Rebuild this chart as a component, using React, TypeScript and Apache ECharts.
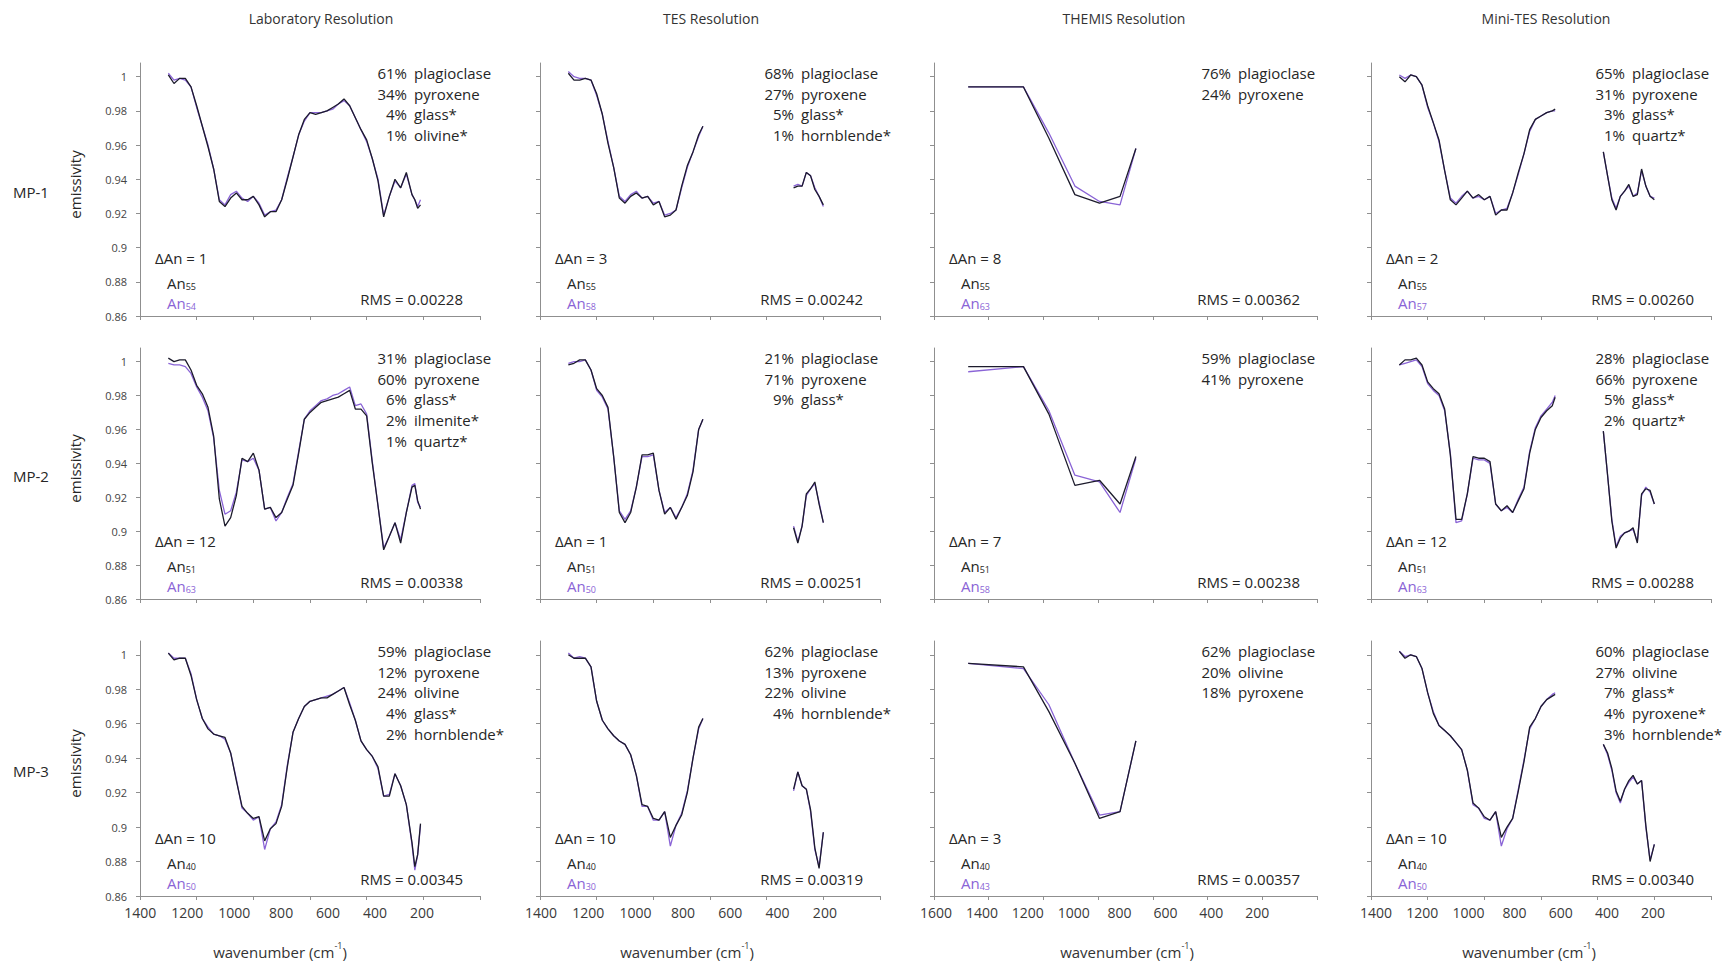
import React, { useEffect, useRef } from "react";
import * as echarts from "echarts";

// ---------- text content ----------
const instruments = ["Laboratory Resolution", "TES Resolution", "THEMIS Resolution", "Mini-TES Resolution"];
const samples = ["MP-1", "MP-2", "MP-3"];

// ---------- axis ticks ----------
const yTicks = [0.86, 0.88, 0.9, 0.92, 0.94, 0.96, 0.98, 1];
const xTickLabels = [1400, 1200, 1000, 800, 600, 400, 200];
const themisTickLabels = [1600, 1400, 1200, 1000, 800, 600, 400, 200];

// ---------- wavenumbers (cm-1) ----------
const labWavenumbers = [1300, 1280, 1260, 1240, 1220, 1200, 1180, 1160, 1140, 1120, 1100, 1080, 1060, 1040, 1020, 1000, 980, 960, 940, 920, 900, 880, 860, 840, 820, 800, 780, 760, 740, 720, 700, 680, 660, 640, 620, 600, 580, 560, 540, 520, 500, 480, 460, 440, 430, 420, 410];
const tesWavenumbers = [1300, 1280, 1260, 1240, 1220, 1200, 1180, 1160, 1140, 1120, 1100, 1080, 1060, 1040, 1020, 1000, 980, 960, 940, 920, 900, 880, 860, 840, 825, 505, 490, 475, 460, 445, 430, 415, 400];
const themisWavenumbers = [1475, 1273, 1180, 1085, 995, 920, 862];
const miniTesWavenumbers = [1300, 1280, 1260, 1240, 1220, 1200, 1180, 1160, 1140, 1120, 1100, 1080, 1060, 1040, 1020, 1000, 980, 960, 940, 920, 900, 880, 860, 840, 820, 800, 780, 760, 750, 580, 565, 550, 535, 520, 505, 490, 475, 460, 445, 430, 415, 400];
// spectral ranges left out (last wavenumber before each gap)
const tesGapAfter = 825;
const miniTesGapAfter = 750;

// ---------- emissivity: measured (black) and modelled (purple) ----------
const mp1LabMeasured = [1.001, 0.996, 0.999, 0.999, 0.994, 0.983, 0.971, 0.959, 0.946, 0.927, 0.924, 0.929, 0.932, 0.928, 0.928, 0.930, 0.925, 0.918, 0.921, 0.921, 0.928, 0.940, 0.953, 0.966, 0.975, 0.979, 0.978, 0.979, 0.980, 0.982, 0.984, 0.987, 0.983, 0.976, 0.969, 0.963, 0.952, 0.939, 0.918, 0.930, 0.940, 0.935, 0.944, 0.931, 0.928, 0.923, 0.925];
const mp1LabModel = [1.002, 0.998, 0.999, 0.998, 0.994, 0.982, 0.971, 0.960, 0.946, 0.928, 0.925, 0.931, 0.933, 0.929, 0.927, 0.930, 0.926, 0.919, 0.921, 0.922, 0.928, 0.941, 0.953, 0.966, 0.974, 0.979, 0.979, 0.979, 0.980, 0.981, 0.984, 0.986, 0.983, 0.976, 0.969, 0.962, 0.952, 0.940, 0.919, 0.930, 0.939, 0.935, 0.943, 0.931, 0.928, 0.924, 0.928];
const mp2LabMeasured = [1.002, 1.000, 1.001, 1.001, 0.995, 0.986, 0.981, 0.973, 0.956, 0.919, 0.903, 0.908, 0.921, 0.943, 0.941, 0.946, 0.936, 0.913, 0.914, 0.908, 0.911, 0.919, 0.927, 0.946, 0.966, 0.970, 0.973, 0.976, 0.977, 0.978, 0.979, 0.981, 0.983, 0.972, 0.972, 0.968, 0.940, 0.915, 0.889, 0.897, 0.905, 0.893, 0.911, 0.926, 0.927, 0.918, 0.913];
const mp2LabModel = [0.999, 0.998, 0.998, 0.997, 0.993, 0.985, 0.979, 0.971, 0.955, 0.924, 0.910, 0.912, 0.923, 0.942, 0.941, 0.943, 0.936, 0.913, 0.914, 0.906, 0.911, 0.920, 0.928, 0.947, 0.966, 0.971, 0.974, 0.977, 0.978, 0.980, 0.981, 0.983, 0.985, 0.974, 0.975, 0.969, 0.941, 0.915, 0.890, 0.897, 0.905, 0.895, 0.911, 0.927, 0.928, 0.917, 0.914];
const mp3LabMeasured = [1.001, 0.997, 0.998, 0.998, 0.988, 0.974, 0.963, 0.957, 0.954, 0.953, 0.952, 0.943, 0.927, 0.912, 0.908, 0.905, 0.906, 0.892, 0.899, 0.902, 0.912, 0.935, 0.955, 0.963, 0.970, 0.973, 0.974, 0.975, 0.975, 0.977, 0.979, 0.981, 0.971, 0.962, 0.950, 0.945, 0.941, 0.935, 0.918, 0.918, 0.931, 0.924, 0.913, 0.891, 0.877, 0.884, 0.902];
const mp3LabModel = [1.001, 0.998, 0.998, 0.998, 0.989, 0.974, 0.963, 0.958, 0.954, 0.953, 0.951, 0.943, 0.928, 0.911, 0.908, 0.904, 0.906, 0.887, 0.899, 0.903, 0.913, 0.936, 0.955, 0.963, 0.970, 0.973, 0.974, 0.975, 0.976, 0.977, 0.979, 0.981, 0.972, 0.962, 0.950, 0.945, 0.941, 0.934, 0.918, 0.919, 0.931, 0.924, 0.913, 0.890, 0.875, 0.884, 0.901];

const mp1TesMeasured = [1.002, 0.998, 0.998, 0.999, 0.998, 0.990, 0.978, 0.961, 0.947, 0.929, 0.926, 0.930, 0.932, 0.929, 0.930, 0.925, 0.927, 0.918, 0.919, 0.922, 0.936, 0.948, 0.956, 0.966, 0.971, 0.935, 0.936, 0.936, 0.944, 0.942, 0.934, 0.930, 0.925];
const mp1TesModel = [1.003, 1.000, 0.999, 0.999, 0.998, 0.989, 0.978, 0.962, 0.947, 0.930, 0.927, 0.931, 0.933, 0.929, 0.930, 0.926, 0.927, 0.919, 0.920, 0.922, 0.935, 0.947, 0.956, 0.965, 0.971, 0.936, 0.937, 0.936, 0.944, 0.942, 0.935, 0.930, 0.924];
const mp2TesMeasured = [0.998, 0.999, 1.001, 1.001, 0.995, 0.984, 0.980, 0.973, 0.944, 0.911, 0.905, 0.911, 0.926, 0.945, 0.945, 0.946, 0.924, 0.910, 0.914, 0.907, 0.914, 0.921, 0.935, 0.960, 0.966, 0.902, 0.893, 0.903, 0.922, 0.925, 0.929, 0.916, 0.905];
const mp2TesModel = [0.999, 1.000, 1.000, 1.001, 0.995, 0.983, 0.979, 0.972, 0.944, 0.912, 0.907, 0.912, 0.926, 0.944, 0.944, 0.945, 0.924, 0.911, 0.914, 0.908, 0.914, 0.922, 0.936, 0.960, 0.966, 0.903, 0.894, 0.903, 0.921, 0.925, 0.928, 0.917, 0.905];
const mp3TesMeasured = [1.000, 0.998, 0.998, 0.998, 0.993, 0.973, 0.962, 0.957, 0.953, 0.950, 0.948, 0.942, 0.930, 0.913, 0.912, 0.905, 0.904, 0.909, 0.894, 0.901, 0.907, 0.920, 0.940, 0.958, 0.963, 0.922, 0.932, 0.924, 0.922, 0.910, 0.888, 0.876, 0.897];
const mp3TesModel = [1.001, 0.998, 0.999, 0.998, 0.993, 0.973, 0.962, 0.957, 0.953, 0.950, 0.948, 0.942, 0.930, 0.912, 0.912, 0.904, 0.904, 0.909, 0.889, 0.901, 0.908, 0.921, 0.940, 0.957, 0.963, 0.921, 0.932, 0.924, 0.922, 0.909, 0.887, 0.877, 0.897];

const mp1ThemisMeasured = [0.994, 0.994, 0.964, 0.931, 0.926, 0.930, 0.958];
const mp1ThemisModel = [0.994, 0.994, 0.967, 0.936, 0.927, 0.925, 0.958];
const mp2ThemisMeasured = [0.997, 0.997, 0.969, 0.927, 0.930, 0.916, 0.944];
const mp2ThemisModel = [0.994, 0.997, 0.971, 0.933, 0.929, 0.911, 0.943];
const mp3ThemisMeasured = [0.995, 0.993, 0.967, 0.937, 0.905, 0.909, 0.950];
const mp3ThemisModel = [0.995, 0.992, 0.971, 0.937, 0.907, 0.909, 0.950];

const mp1MiniMeasured = [1.000, 0.997, 1.001, 1.000, 0.995, 0.983, 0.973, 0.963, 0.945, 0.928, 0.925, 0.929, 0.933, 0.929, 0.931, 0.928, 0.930, 0.919, 0.922, 0.922, 0.932, 0.944, 0.955, 0.969, 0.975, 0.977, 0.979, 0.980, 0.981, 0.956, 0.942, 0.928, 0.922, 0.930, 0.933, 0.937, 0.930, 0.931, 0.946, 0.936, 0.930, 0.928];
const mp1MiniModel = [1.001, 0.999, 1.001, 1.000, 0.995, 0.982, 0.973, 0.962, 0.945, 0.929, 0.926, 0.930, 0.933, 0.929, 0.930, 0.928, 0.930, 0.920, 0.922, 0.923, 0.932, 0.943, 0.955, 0.968, 0.975, 0.977, 0.979, 0.980, 0.980, 0.956, 0.942, 0.929, 0.923, 0.930, 0.933, 0.936, 0.930, 0.932, 0.945, 0.936, 0.930, 0.929];
const mp2MiniMeasured = [0.998, 1.001, 1.001, 1.002, 0.998, 0.988, 0.984, 0.981, 0.972, 0.945, 0.907, 0.907, 0.922, 0.944, 0.943, 0.943, 0.941, 0.916, 0.912, 0.915, 0.911, 0.918, 0.925, 0.946, 0.960, 0.967, 0.971, 0.974, 0.979, 0.959, 0.933, 0.906, 0.890, 0.896, 0.899, 0.900, 0.902, 0.893, 0.922, 0.925, 0.924, 0.916];
const mp2MiniModel = [0.998, 0.999, 1.000, 1.001, 0.997, 0.987, 0.983, 0.980, 0.971, 0.946, 0.905, 0.906, 0.922, 0.943, 0.942, 0.942, 0.940, 0.916, 0.912, 0.914, 0.911, 0.919, 0.926, 0.947, 0.961, 0.968, 0.972, 0.976, 0.980, 0.959, 0.933, 0.907, 0.891, 0.897, 0.899, 0.900, 0.901, 0.894, 0.921, 0.926, 0.923, 0.916];
const mp3MiniMeasured = [1.002, 0.998, 1.000, 0.999, 0.992, 0.978, 0.966, 0.959, 0.956, 0.953, 0.949, 0.945, 0.933, 0.914, 0.911, 0.906, 0.904, 0.909, 0.894, 0.900, 0.905, 0.921, 0.938, 0.958, 0.963, 0.970, 0.974, 0.976, 0.977, 0.948, 0.943, 0.934, 0.921, 0.915, 0.922, 0.927, 0.930, 0.925, 0.927, 0.901, 0.880, 0.890];
const mp3MiniModel = [1.002, 0.999, 1.000, 0.999, 0.992, 0.978, 0.967, 0.959, 0.956, 0.953, 0.949, 0.945, 0.933, 0.913, 0.911, 0.905, 0.904, 0.909, 0.889, 0.899, 0.905, 0.922, 0.939, 0.957, 0.963, 0.970, 0.974, 0.977, 0.978, 0.948, 0.942, 0.933, 0.920, 0.914, 0.922, 0.926, 0.929, 0.925, 0.927, 0.900, 0.881, 0.890];

// ---------- annotations ----------
const mp1Modes = [
  [["61%", "plagioclase"], ["34%", "pyroxene"], ["4%", "glass*"], ["1%", "olivine*"]],
  [["68%", "plagioclase"], ["27%", "pyroxene"], ["5%", "glass*"], ["1%", "hornblende*"]],
  [["76%", "plagioclase"], ["24%", "pyroxene"]],
  [["65%", "plagioclase"], ["31%", "pyroxene"], ["3%", "glass*"], ["1%", "quartz*"]],
];
const mp2Modes = [
  [["31%", "plagioclase"], ["60%", "pyroxene"], ["6%", "glass*"], ["2%", "ilmenite*"], ["1%", "quartz*"]],
  [["21%", "plagioclase"], ["71%", "pyroxene"], ["9%", "glass*"]],
  [["59%", "plagioclase"], ["41%", "pyroxene"]],
  [["28%", "plagioclase"], ["66%", "pyroxene"], ["5%", "glass*"], ["2%", "quartz*"]],
];
const mp3Modes = [
  [["59%", "plagioclase"], ["12%", "pyroxene"], ["24%", "olivine"], ["4%", "glass*"], ["2%", "hornblende*"]],
  [["62%", "plagioclase"], ["13%", "pyroxene"], ["22%", "olivine"], ["4%", "hornblende*"]],
  [["62%", "plagioclase"], ["20%", "olivine"], ["18%", "pyroxene"]],
  [["60%", "plagioclase"], ["27%", "olivine"], ["7%", "glass*"], ["4%", "pyroxene*"], ["3%", "hornblende*"]],
];
const deltaAn = [[1, 3, 8, 2], [12, 1, 7, 12], [10, 10, 3, 10]];
const anMeasured = [[55, 55, 55, 55], [51, 51, 51, 51], [40, 40, 40, 40]];
const anModel = [[54, 58, 63, 57], [63, 50, 58, 63], [50, 30, 43, 50]];
const rmsValues = [
  ["0.00228", "0.00242", "0.00362", "0.00260"],
  ["0.00338", "0.00251", "0.00238", "0.00288"],
  ["0.00345", "0.00319", "0.00357", "0.00340"],
];

// ---------- layout & style ----------
const FONT = '"Open Sans", "DejaVu Sans", sans-serif';
const BLACK = "#1c1b2c";
const PURPLE = "#8a64d6";
const AXIS = "#8f8f8f";
const TEXT = "#262626";
const COLS = [
  { left: 140, width: 340 },
  { left: 540, width: 340 },
  { left: 934, width: 383 },
  { left: 1371, width: 340 },
];
const ROWS = [
  { top: 63, height: 253 },
  { top: 348, height: 251 },
  { top: 641, height: 255 },
];
const LABEL_AXIS = [
  { min: -47, max: 1401 },
  { min: -33, max: 1404 },
  { min: -61, max: 1609 },
  { min: -51, max: 1422 },
];
const TITLE_X = [321, 711, 1124, 1546];
const XTITLE_X = [280, 687, 1127, 1529];

const panels = [
  [
    { x: labWavenumbers, m: mp1LabMeasured, p: mp1LabModel, gap: null },
    { x: tesWavenumbers, m: mp1TesMeasured, p: mp1TesModel, gap: tesGapAfter },
    { x: themisWavenumbers, m: mp1ThemisMeasured, p: mp1ThemisModel, gap: null },
    { x: miniTesWavenumbers, m: mp1MiniMeasured, p: mp1MiniModel, gap: miniTesGapAfter },
  ],
  [
    { x: labWavenumbers, m: mp2LabMeasured, p: mp2LabModel, gap: null },
    { x: tesWavenumbers, m: mp2TesMeasured, p: mp2TesModel, gap: tesGapAfter },
    { x: themisWavenumbers, m: mp2ThemisMeasured, p: mp2ThemisModel, gap: null },
    { x: miniTesWavenumbers, m: mp2MiniMeasured, p: mp2MiniModel, gap: miniTesGapAfter },
  ],
  [
    { x: labWavenumbers, m: mp3LabMeasured, p: mp3LabModel, gap: null },
    { x: tesWavenumbers, m: mp3TesMeasured, p: mp3TesModel, gap: tesGapAfter },
    { x: themisWavenumbers, m: mp3ThemisMeasured, p: mp3ThemisModel, gap: null },
    { x: miniTesWavenumbers, m: mp3MiniMeasured, p: mp3MiniModel, gap: miniTesGapAfter },
  ],
];
const modes = [mp1Modes, mp2Modes, mp3Modes];

function toPairs(xs: number[], ys: number[], gapAfter: number | null) {
  const out: any[] = [];
  for (let i = 0; i < xs.length; i++) {
    out.push([xs[i], ys[i]]);
    if (gapAfter !== null && xs[i] === gapAfter && i + 1 < xs.length) {
      out.push([(xs[i] + xs[i + 1]) / 2, "-"]);
    }
  }
  return out;
}

function buildOption() {
  const grid: any[] = [];
  const xAxis: any[] = [];
  const yAxis: any[] = [];
  const series: any[] = [];
  const graphic: any[] = [];

  for (let r = 0; r < 3; r++) {
    for (let c = 0; c < 4; c++) {
      const idx = r * 4 + c;
      const { left, width } = COLS[c];
      const { top, height } = ROWS[r];
      grid.push({ left, top, width, height, containLabel: false });
      xAxis.push({
        gridIndex: idx,
        type: "value",
        inverse: true,
        min: 200,
        max: c === 2 ? 1600 : 1400,
        interval: 200,
        axisLine: { show: true, onZero: false, lineStyle: { color: AXIS, width: 1 } },
        axisTick: { show: true, length: 4, lineStyle: { color: AXIS } },
        axisLabel: { show: false },
        splitLine: { show: false },
      });
      yAxis.push({
        gridIndex: idx,
        type: "value",
        min: 0.86,
        max: 1.008,
        interval: 0.02,
        axisLine: { show: true, onZero: false, lineStyle: { color: AXIS, width: 1 } },
        axisTick: { show: true, length: 4, customValues: yTicks, lineStyle: { color: AXIS } },
        axisLabel: {
          show: c === 0,
          customValues: yTicks,
          formatter: (v: number) => String(parseFloat(v.toFixed(2))),
          fontSize: 11,
          fontFamily: FONT,
          color: "#444",
          margin: 13,
        },
        splitLine: { show: false },
      });
      const pnl = panels[r][c];
      series.push({
        type: "line",
        xAxisIndex: idx,
        yAxisIndex: idx,
        data: toPairs(pnl.x, pnl.p, pnl.gap),
        showSymbol: false,
        symbol: "none",
        silent: true,
        lineStyle: { width: 1.3, color: PURPLE },
        itemStyle: { color: PURPLE },
        z: 2,
      });
      series.push({
        type: "line",
        xAxisIndex: idx,
        yAxisIndex: idx,
        data: toPairs(pnl.x, pnl.m, pnl.gap),
        showSymbol: false,
        symbol: "none",
        silent: true,
        lineStyle: { width: 1.3, color: BLACK },
        itemStyle: { color: BLACK },
        z: 3,
      });

      // annotations
      const gl = left;
      const gr = left + width;
      const gt = top;
      const gb = top + height;
      const pctRight = gr - (c === 0 ? 73 : 86);
      modes[r][c].forEach((row, i) => {
        const y = gt + 10 + 20.7 * i;
        graphic.push({
          type: "text", x: pctRight, y, silent: true,
          style: { text: row[0], font: `15px ${FONT}`, fill: TEXT, textAlign: "right", textVerticalAlign: "middle" },
        });
        graphic.push({
          type: "text", x: pctRight + 7, y, silent: true,
          style: { text: row[1], font: `15px ${FONT}`, fill: TEXT, textAlign: "left", textVerticalAlign: "middle" },
        });
      });
      graphic.push({
        type: "text", x: gl + 15, y: gb - 58, silent: true,
        style: { text: `ΔAn = ${deltaAn[r][c]}`, font: `15px ${FONT}`, fill: TEXT, textAlign: "left", textVerticalAlign: "middle" },
      });
      const anRich = (color: string) => ({
        a: { fontSize: 15, fontFamily: FONT, fill: color, color, lineHeight: 16, verticalAlign: "top" },
        s: { fontSize: 9, fontFamily: FONT, fill: color, color, lineHeight: 10, verticalAlign: "bottom" },
      });
      graphic.push({
        type: "text", x: gl + 27, y: gb - 33, silent: true,
        style: { text: `{a|An}{s|${anMeasured[r][c]}}`, rich: anRich(TEXT), fill: TEXT, textAlign: "left", textVerticalAlign: "middle" },
      });
      graphic.push({
        type: "text", x: gl + 27, y: gb - 13, silent: true,
        style: { text: `{a|An}{s|${anModel[r][c]}}`, rich: anRich(PURPLE), fill: PURPLE, textAlign: "left", textVerticalAlign: "middle" },
      });
      graphic.push({
        type: "text", x: gr - 17, y: gb - 17, silent: true,
        style: { text: `RMS = ${rmsValues[r][c]}`, font: `15px ${FONT}`, fill: TEXT, textAlign: "right", textVerticalAlign: "middle" },
      });
    }
  }

  // tick-label axes on the bottom row
  for (let c = 0; c < 4; c++) {
    xAxis.push({
      gridIndex: 8 + c,
      type: "value",
      inverse: true,
      min: LABEL_AXIS[c].min,
      max: LABEL_AXIS[c].max,
      position: "bottom",
      axisLine: { show: false },
      axisTick: { show: false },
      axisLabel: {
        show: true,
        customValues: c === 2 ? themisTickLabels : xTickLabels,
        formatter: (v: number) => String(Math.round(v)),
        fontSize: 14,
        fontFamily: FONT,
        color: "#3a3a3a",
        margin: 9,
      },
      splitLine: { show: false },
    });
  }

  // column titles and x-axis titles
  instruments.forEach((t, c) => {
    graphic.push({
      type: "text", x: TITLE_X[c], y: 18, silent: true,
      style: { text: t, font: `14px ${FONT}`, fill: "#333", textAlign: "center", textVerticalAlign: "middle" },
    });
    graphic.push({
      type: "text", x: XTITLE_X[c], y: 950, silent: true,
      style: {
        text: "{t|wavenumber (cm}{u|-1}{t|)}",
        rich: {
          t: { fontSize: 15, fontFamily: FONT, fill: "#333", color: "#333", lineHeight: 18, verticalAlign: "bottom" },
          u: { fontSize: 9, fontFamily: FONT, fill: "#333", color: "#333", lineHeight: 18, verticalAlign: "top" },
        },
        textAlign: "center",
        textVerticalAlign: "middle",
      },
    });
  });

  // row labels and y-axis titles
  samples.forEach((s, r) => {
    const cy = ROWS[r].top + ROWS[r].height / 2;
    graphic.push({
      type: "text", x: 13, y: cy + 2, silent: true,
      style: { text: s, font: `15px ${FONT}`, fill: TEXT, textAlign: "left", textVerticalAlign: "middle" },
    });
    graphic.push({
      type: "text", x: 75, y: cy - 5, rotation: Math.PI / 2, silent: true,
      style: { text: "emissivity", font: `15px ${FONT}`, fill: TEXT, textAlign: "center", textVerticalAlign: "middle" },
    });
  });

  return {
    animation: false,
    backgroundColor: "#ffffff",
    grid,
    xAxis,
    yAxis,
    series,
    graphic,
  };
}

export default function App() {
  const ref = useRef<HTMLDivElement | null>(null);
  useEffect(() => {
    if (!ref.current) return;
    const chart = echarts.init(ref.current, undefined, { renderer: "svg" });
    chart.setOption(buildOption() as any);
    return () => chart.dispose();
  }, []);
  return (
    <div
      ref={ref}
      style={{ position: "fixed", left: 0, top: 0, width: 1733, height: 961, background: "#fff" }}
    />
  );
}
